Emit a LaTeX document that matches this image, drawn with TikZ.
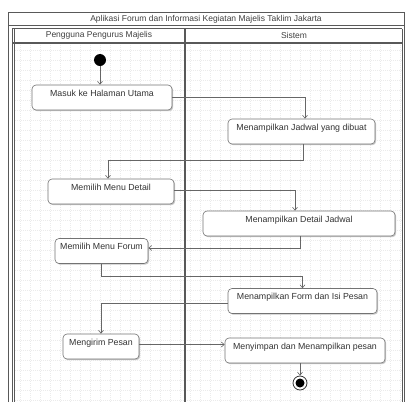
\documentclass[tikz,border=0pt]{standalone}
\usepackage{fontspec}
\setmainfont{Liberation Sans}
\usetikzlibrary{arrows.meta,shadows}
\begin{document}
\begin{tikzpicture}[x=1pt,y=-1pt,
  act/.style={draw=black!55, line width=0.6pt, rounded corners=4pt, fill=white,
    font=\fontsize{8.8}{10}\selectfont, text=black!80, text height=7pt, text depth=10pt,
    inner ysep=4pt, inner xsep=2pt,
    drop shadow={shadow xshift=1.2pt, shadow yshift=-1.2pt, fill=black!22, opacity=1}},
  flow/.style={draw=black!60, line width=0.6pt, -{Straight Barb[length=3pt,width=5pt]}},
  frame/.style={draw=black!65, line width=0.8pt},
  gridline/.style={draw=black!8, line width=0.3pt, dash pattern=on 1pt off 1pt},
  hdr/.style={font=\fontsize{8.5}{10}\selectfont, text=black!75, inner sep=0pt}
]
\useasboundingbox (0,0) rectangle (406,402);
% background grid
\foreach \gx in {20,30,...,400} {\draw[gridline] (\gx,43) -- (\gx,402);}
\foreach \gy in {50,60,...,400} {\draw[gridline] (14.5,\gy) -- (402,\gy);}
% frame
\draw[frame] (8,402) -- (8,12) -- (404,12) -- (404,402);
\draw[frame, line width=1.1pt] (8,25.5) -- (404,25.5);
\draw[frame] (12,28.5) -- (402,28.5);
\draw[frame] (12,28.5) -- (12,402);
\draw[frame] (14.5,28.5) -- (14.5,402);
\draw[frame] (402,28.5) -- (402,402);
\draw[frame, line width=1.1pt] (12,43) -- (402,43);
\draw[frame, line width=1.2pt] (185,28.5) -- (185,402);
\node[hdr] (title) at (206,19) {Aplikasi Forum dan Informasi Kegiatan Majelis Taklim Jakarta};
\node[hdr] (lane1) at (99,35) {Pengguna Pengurus Majelis};
\node[hdr] (lane2) at (294,35) {Sistem};
% nodes
\node[circle, fill=black, minimum size=12pt, inner sep=0pt] (start) at (100,60) {};
\node[act, minimum width=140pt] (n1) at (102,97.5) {Masuk ke Halaman Utama};
\node[act, minimum width=147pt] (n2) at (301.5,131.5) {Menampilkan Jadwal yang dibuat};
\node[act, minimum width=126pt] (n3) at (111,191.5) {Memilih Menu Detail};
\node[act, minimum width=192pt] (n4) at (299,223.5) {Menampilkan Detail Jadwal};
\node[act, minimum width=93pt] (n5) at (101.5,251) {Memilih Menu Forum};
\node[act, minimum width=149pt] (n6) at (302.5,301) {Menampilkan Form dan Isi Pesan};
\node[act, minimum width=76pt] (n7) at (101,346.5) {Mengirim Pesan};
\node[act, minimum width=160pt] (n8) at (305,350.5) {Menyimpan dan Menampilkan pesan};
\node[circle, draw=black!80, line width=0.8pt, fill=white, minimum size=14pt, inner sep=0pt] (end) at (300,383) {};
\node[circle, fill=black, minimum size=9pt, inner sep=0pt] (endc) at (end.center) {};
% connectors
\draw[flow] (start) -- (start |- n1.north);
\draw[flow] (n1.east) -| ([xshift=3.5pt]n2.north);
\draw[flow] ([xshift=1.5pt]n2.south) -- ++(0,16) -| ([xshift=-3pt]n3.north);
\draw[flow] ([yshift=1.5pt]n3.east) -| ([xshift=-4pt]n4.north);
\draw[flow] ([xshift=1pt]n4.south) |- ([yshift=3pt]n5.east);
\draw[flow] (n5.south) -- ++(0,12) -| (n6.north);
\draw[flow] ([yshift=-2pt]n6.west) -| (n7.north);
\draw[flow] ([yshift=2pt]n7.east) -- ([yshift=2pt]n7.east -| n8.west);
\draw[flow] (end |- n8.south) -- (end);
\end{tikzpicture}
\end{document}
